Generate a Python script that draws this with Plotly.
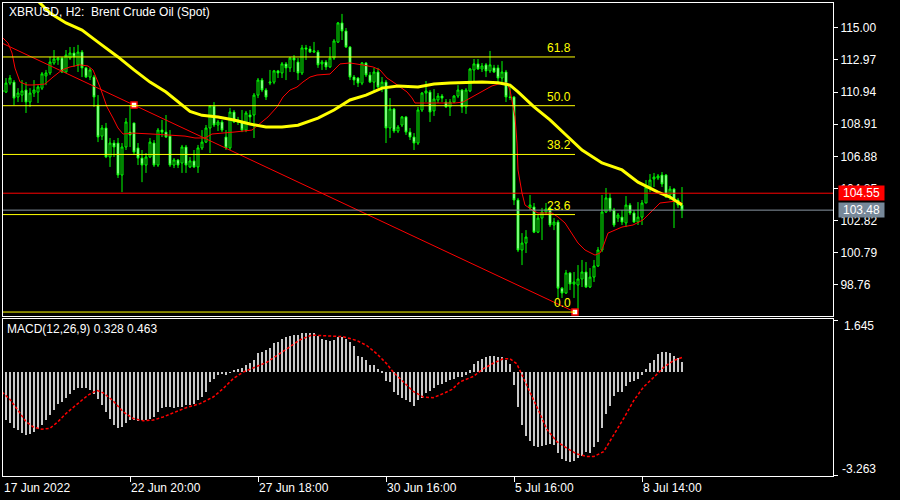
import plotly.graph_objects as go

# ---------------- data ----------------
open_ = [111.07,110.94,111.51,111.57,110.63,110.75,111.07,110.31,110.88,110.94,
         111.19,111.96,112.15,112.78,112.97,113.09,112.21,113.09,113.41,112.66,
         113.47,112.47,111.89,111.89,110.12,108.16,108.67,106.84,107.72,107.72,
         105.70,107.47,108.41,108.99,107.41,106.77,106.33,106.84,107.72,106.33,
         108.54,108.41,108.16,106.33,106.65,106.46,107.47,106.21,106.59,106.21,
         107.41,107.78,108.67,110.06,108.86,109.05,108.10,107.41,109.68,109.05,
         109.05,108.54,109.49,109.49,110.75,111.70,111.07,111.51,111.57,112.28,
         112.15,112.72,112.47,113.09,112.84,112.15,113.73,113.66,113.47,113.47,
         112.72,112.84,112.53,113.09,114.10,115.31,114.80,113.79,111.89,111.83,
         111.51,112.78,112.02,111.57,112.21,111.26,111.57,108.67,109.87,108.48,
         108.86,109.37,108.41,108.10,107.72,109.81,110.88,110.94,109.75,110.44,
         110.69,110.31,110.00,110.31,110.69,111.07,110.00,111.01,112.34,112.72,
         112.40,112.66,112.28,112.47,112.47,111.83,112.21,110.63,110.63,104.12,
         100.96,101.40,103.62,103.68,102.09,102.98,103.36,103.62,102.54,102.73,
         98.55,98.24,99.51,98.81,98.75,99.13,99.57,98.62,99.25,99.95,
         100.96,103.36,104.25,103.49,102.98,103.04,102.67,103.80,103.30,102.73,
         103.04,103.93,104.94,105.45,105.51,105.70,105.70,104.44,104.81,104.12,
         103.80]
high_ = [111.33,111.83,112.02,111.70,111.19,111.70,111.57,111.19,111.70,111.38,
         112.21,112.34,113.16,113.60,113.16,113.16,113.60,113.79,113.79,113.92,
         113.60,112.53,112.47,112.02,110.75,108.86,108.99,108.04,107.91,108.04,
         107.72,109.30,110.12,108.99,107.72,107.28,107.09,108.04,107.91,108.67,
         109.18,109.49,108.54,106.77,106.71,107.60,107.60,106.84,107.28,107.60,
         108.54,108.86,110.12,110.31,109.18,109.18,108.54,109.94,109.81,109.37,
         109.81,109.75,109.81,110.88,111.83,111.83,111.19,112.34,112.34,112.34,
         112.84,112.84,113.16,113.28,113.09,113.92,113.92,113.85,114.11,113.60,
         112.97,112.97,113.79,114.29,115.37,115.88,114.99,113.85,112.02,111.89,
         112.84,112.84,112.21,112.47,112.47,111.89,111.70,110.56,109.94,108.86,
         109.43,109.43,108.67,108.35,110.00,110.94,111.64,111.07,111.13,110.88,
         110.82,110.50,110.50,110.75,111.38,111.13,111.19,112.47,113.03,113.03,
         112.78,112.78,113.54,112.66,112.66,112.90,112.34,111.32,110.69,104.25,
         102.03,102.22,104.44,103.93,103.17,103.62,103.93,103.68,102.98,102.86,
         98.62,99.70,99.57,99.57,100.01,100.33,100.20,99.82,100.33,101.15,
         104.44,104.88,104.56,103.62,103.30,103.49,104.37,103.93,103.49,103.99,
         104.12,105.38,105.76,105.83,105.76,105.89,105.76,105.00,104.88,104.25,
         104.94]
low_ = [110.75,110.88,111.38,110.12,110.31,110.31,109.62,110.00,110.63,110.25,
        111.07,111.38,112.02,112.66,112.66,112.15,112.15,112.97,112.53,112.21,
        111.89,111.83,111.70,110.00,107.78,107.91,106.77,106.21,106.84,105.51,
        104.62,107.28,107.47,106.96,106.33,105.25,105.83,106.77,106.21,106.21,
        108.10,108.04,106.21,106.14,106.14,105.83,105.83,106.14,106.14,105.83,
        107.28,107.72,107.09,108.73,108.48,108.41,107.28,107.28,108.99,108.86,
        108.41,108.41,108.86,108.04,110.56,110.94,110.44,111.38,111.44,111.83,
        111.83,111.70,112.21,112.21,111.70,112.02,112.97,113.41,113.41,112.47,
        112.34,112.34,112.47,112.97,114.04,114.23,113.73,111.70,111.38,111.26,
        111.38,111.89,111.51,110.94,111.19,110.94,107.72,108.04,108.35,108.35,
        108.73,108.23,107.91,107.28,107.60,109.68,110.31,109.05,109.43,110.25,
        110.31,109.94,109.43,110.25,110.56,109.62,109.56,110.94,111.64,112.34,
        112.21,111.89,112.15,112.15,111.57,111.57,110.31,110.44,103.80,100.83,
        100.01,100.77,103.49,102.03,102.03,101.59,103.17,102.41,102.22,97.93,
        97.93,98.18,98.43,97.93,97.10,98.62,98.56,98.56,98.94,99.89,
        100.83,103.30,103.36,102.41,102.73,102.54,102.41,103.17,102.67,102.54,
        102.54,103.93,104.62,104.94,105.38,104.94,104.25,104.12,102.35,103.62,
        102.98]
close_ = [110.94,111.51,111.83,110.56,110.88,111.01,110.31,110.88,111.07,111.26,
          112.09,112.15,112.84,113.03,113.09,112.21,113.28,113.41,113.16,113.47,
          112.47,111.89,112.34,110.63,108.10,108.67,106.84,107.72,107.47,105.70,
          107.47,109.05,108.23,107.15,106.77,106.33,106.84,107.78,106.33,108.54,
          108.41,108.10,106.33,106.65,106.33,107.47,106.33,106.59,106.21,107.41,
          107.78,108.67,110.06,108.86,109.05,108.54,107.41,109.68,109.05,109.18,
          108.54,109.62,109.37,110.75,111.70,111.07,110.63,111.57,112.28,112.15,
          112.72,112.47,113.09,112.97,112.15,113.73,113.66,113.47,113.54,112.66,
          112.84,112.53,113.09,114.17,115.31,114.80,113.79,111.89,111.70,111.51,
          112.78,112.02,111.57,112.21,111.26,111.57,108.67,109.87,108.48,108.73,
          109.37,108.41,108.10,107.72,109.81,110.88,111.01,109.68,110.50,110.69,
          110.56,110.00,110.31,110.69,111.07,110.00,111.07,112.40,112.72,112.40,
          112.59,112.28,112.66,112.21,111.83,112.21,110.63,110.60,104.12,100.96,
          101.40,101.78,103.80,102.09,102.98,103.36,103.55,102.54,102.73,98.55,
          98.24,99.51,98.81,98.94,99.13,99.57,98.62,99.25,99.95,100.96,
          103.36,104.25,103.49,102.54,103.17,102.73,103.80,103.30,102.73,103.04,
          103.93,104.94,105.38,105.57,105.64,105.13,104.31,104.81,104.12,103.80,
          103.48]
bars = list(range(len(close_)))

# slow moving average (thick yellow), sampled along its path
ma_slow_x = [7, 12, 16, 20, 24, 29, 33, 37, 41, 45, 47, 50, 54, 58, 62, 66, 70, 74,
             79, 83, 87, 91, 95, 99, 104, 108, 112, 120, 124, 127, 129, 133, 137,
             141, 145, 150, 155, 159, 164, 167, 170]
ma_slow_y = [117.20, 115.94, 115.31, 114.86, 114.10, 113.16, 112.34, 111.57, 110.94,
             110.12, 109.72, 109.47, 109.37, 109.18, 108.92, 108.73, 108.73, 108.85,
             109.30, 109.81, 110.44, 110.75, 111.19, 111.32, 111.26, 111.45, 111.51,
             111.57, 111.53, 111.38, 110.95, 110.00, 109.18, 108.23, 107.28, 106.46,
             106.02, 105.25, 104.62, 104.31, 103.80]

# fast moving average (thin red)
ma_fast_x = [0, 1.5, 2.5, 3.25, 4.5, 6.25, 7.75, 10.75, 12.75, 15, 17, 19.5, 21.5,
             22.75, 24.5, 26.25, 27.75, 29, 30.25, 32.75, 37.5, 41.5, 45.75, 48.25,
             50.75, 52.5, 55.75, 58.25, 62.5, 64, 66.5, 68.75, 70.25, 72, 73.75,
             75.25, 77, 78.75, 82, 84.5, 87, 90.25, 92.75, 94.5, 96.25, 97.75, 99.5,
             101.25, 102.5, 103.25, 105.75, 109, 113.25, 115.25, 117.5, 120, 122.5,
             125, 126.25, 127, 127.5, 128.25, 128.75, 129, 130, 130.75, 132.5, 134,
             137.5, 139, 140.75, 142.5, 144, 145.75, 148.25, 149.5, 150.25, 151.5,
             153.25, 155, 157.75, 160.25, 162.75, 164.5, 168.75, 170]
ma_fast_y = [114.42, 114.04, 113.41, 112.46, 111.58, 111.39, 111.39, 111.45, 111.89,
             112.34, 112.53, 112.66, 112.59, 112.34, 111.26, 110.00, 109.30, 108.67,
             108.29, 108.35, 108.29, 108.23, 108.16, 108.04, 108.04, 108.29, 108.35,
             108.42, 108.54, 108.86, 109.37, 110.00, 110.63, 111.07, 111.26, 111.58,
             111.89, 112.02, 112.08, 112.72, 112.78, 112.65, 112.53, 112.34, 111.83,
             111.58, 111.26, 110.95, 110.57, 110.25, 110.25, 110.25, 110.25, 110.31,
             110.63, 110.95, 111.33, 111.51, 111.51, 111.07, 110.44, 109.37, 107.72,
             106.02, 104.56, 103.80, 103.49, 103.30, 103.30, 103.05, 102.67, 102.03,
             101.40, 100.96, 100.64, 100.77, 101.15, 102.03, 102.22, 102.41, 102.54,
             102.86, 103.49, 103.93, 104.06, 103.93]

# MACD(12,26,9) histogram, one value per bar
macd_hist = [-1.45, -1.52, -1.62, -1.78, -1.83, -1.94, -1.99, -1.96, -1.89, -1.81,
             -1.68, -1.52, -1.36, -1.21, -1.02, -0.94, -0.81, -0.68, -0.58, -0.49,
             -0.49, -0.49, -0.58, -0.68, -0.84, -1.05, -1.26, -1.50, -1.68, -1.76,
             -1.73, -1.60, -1.52, -1.52, -1.55, -1.52, -1.52, -1.47, -1.42, -1.26,
             -1.15, -1.10, -1.10, -1.15, -1.10, -1.10, -1.05, -1.05, -1.00, -0.89,
             -0.79, -0.63, -0.31, -0.21, -0.10, -0.05, -0.10, -0.02, 0.08, 0.10,
             0.14, 0.21, 0.28, 0.39, 0.60, 0.63, 0.70, 0.77, 0.91, 0.96,
             1.05, 1.10, 1.15, 1.18, 1.18, 1.23, 1.24, 1.24, 1.23, 1.15,
             1.05, 1.00, 0.97, 1.00, 1.12, 1.12, 1.05, 0.94, 0.81, 0.52,
             0.47, 0.37, 0.23, 0.23, 0.10, 0.02, -0.28, -0.31, -0.63, -0.73,
             -0.81, -0.89, -0.94, -1.08, -0.89, -0.81, -0.66, -0.60, -0.49, -0.42,
             -0.37, -0.31, -0.26, -0.21, -0.16, -0.16, -0.08, 0.05, 0.26, 0.34,
             0.42, 0.47, 0.52, 0.52, 0.49, 0.49, 0.37, 0.26, -0.42, -1.12,
             -1.68, -2.02, -2.18, -2.34, -2.36, -2.34, -2.31, -2.27, -2.31, -2.55,
             -2.76, -2.83, -2.86, -2.83, -2.73, -2.67, -2.52, -2.57, -2.38, -2.20,
             -1.78, -1.33, -1.08, -0.77, -0.63, -0.63, -0.45, -0.31, -0.28, -0.21,
             -0.10, 0.10, 0.28, 0.39, 0.56, 0.63, 0.63, 0.61, 0.52, 0.45,
             0.328]

# MACD signal line, sampled along its path
signal_x = [0, 2, 4, 6, 8, 10, 12, 14, 16, 19, 21.5, 23.7, 25.3, 27.8, 30.3, 32.8,
            35.3, 37.8, 40.3, 42.8, 46.2, 49.5, 52.8, 55.3, 57.8, 60.3, 62.8, 66.2,
            68.7, 72, 74.5, 77.4, 81.2, 85.3, 88.7, 91.2, 93.7, 96.2, 97.8, 100.3,
            102.8, 105.3, 107.8, 110.3, 112.5, 114.5, 117.8, 120.3, 122.8, 125.3,
            127, 128.7, 130.3, 132, 134, 136.2, 138.7, 141.2, 143.7, 146.2, 148,
            150.4, 153, 155.4, 158, 160.4, 163, 165.5, 168, 170]
signal_y = [-0.63, -0.87, -1.21, -1.57, -1.75, -1.81, -1.78, -1.57, -1.31, -1.00,
            -0.73, -0.58, -0.66, -0.91, -1.26, -1.47, -1.54, -1.52, -1.42, -1.29,
            -1.12, -1.00, -0.79, -0.52, -0.21, 0.00, 0.14, 0.31, 0.52, 0.79,
            1.02, 1.17, 1.15, 1.12, 1.00, 0.84, 0.58, 0.26, 0.00, -0.31,
            -0.61, -0.79, -0.81, -0.68, -0.55, -0.31, -0.14, 0.10, 0.28, 0.42,
            0.42, 0.26, -0.16, -0.63, -1.18, -1.81, -2.20, -2.41, -2.59, -2.67,
            -2.67, -2.52, -1.99, -1.47, -0.89, -0.47, -0.16, 0.16, 0.37, 0.463]

price_ticks = [115.00, 112.97, 110.94, 108.91, 106.88, 104.85, 102.82, 100.79, 98.76]
time_tick_pos = [0.25, 32, 64, 96, 128, 160]
time_tick_text = ["17 Jun 2022", "22 Jun 20:00", "27 Jun 18:00", "30 Jun 16:00",
                  "5 Jul 16:00", "8 Jul 14:00"]

fib_prices = [97.04, 103.20, 107.00, 110.08, 113.16]
fib_labels = ["0.0", "23.6", "38.2", "50.0", "61.8"]
fib_end = 143.25

trend_x = [33, 143.25]
trend_y = [110.12, 97.04]

red_line_price = 104.55
bid_price = 103.48
macd_scale = [1.645, -3.263]
macd_last = [0.328, 0.463]

title_text = "XBRUSD,\u00a0H2:\u00a0\u00a0Brent Crude Oil (Spot)"

# ---------------- figure ----------------
FONT = "Liberation Sans, Arial, sans-serif"
W, H = 900, 500
X_RANGE = [0.25, 207.75]
left_px, right_px = 3, 833

fig = go.Figure()

fig.add_trace(go.Candlestick(
    x=bars, open=open_, high=high_, low=low_, close=close_,
    increasing=dict(line=dict(color="#00ff00", width=1), fillcolor="#000000"),
    decreasing=dict(line=dict(color="#00ff00", width=1), fillcolor="#ffffff"),
    whiskerwidth=0, hoverinfo="skip", xaxis="x", yaxis="y", showlegend=False))

# trendline extended to the left edge
slope = (trend_y[1] - trend_y[0]) / (trend_x[1] - trend_x[0])
x_left = X_RANGE[0]
y_left = trend_y[0] + slope * (x_left - trend_x[0])
fig.add_trace(go.Scatter(x=[x_left, trend_x[1]], y=[y_left, trend_y[1]], mode="lines",
                         line=dict(color="#ff0000", width=1), hoverinfo="skip",
                         xaxis="x", yaxis="y", showlegend=False))

fig.add_trace(go.Scatter(x=ma_fast_x, y=ma_fast_y, mode="lines",
                         line=dict(color="#ff0000", width=1), hoverinfo="skip",
                         xaxis="x", yaxis="y", showlegend=False))
fig.add_trace(go.Scatter(x=ma_slow_x, y=ma_slow_y, mode="lines",
                         line=dict(color="#ffff00", width=3), hoverinfo="skip",
                         xaxis="x", yaxis="y", showlegend=False))

# trendline anchor squares
fig.add_trace(go.Scatter(x=trend_x, y=trend_y, mode="markers",
                         marker=dict(symbol="square", size=6, color="#ffffff",
                                     line=dict(color="#ff0000", width=1.5)),
                         hoverinfo="skip", xaxis="x", yaxis="y", showlegend=False,
                         cliponaxis=False))

# MACD pane
fig.add_trace(go.Bar(x=bars, y=macd_hist, width=0.4, marker=dict(color="#c8c8c8", line=dict(width=0)),
                     hoverinfo="skip", xaxis="x2", yaxis="y2", showlegend=False))
fig.add_trace(go.Scatter(x=signal_x, y=signal_y, mode="lines",
                         line=dict(color="#ff0000", width=1.5, dash="3px,2px"),
                         hoverinfo="skip", xaxis="x2", yaxis="y2", showlegend=False))

shapes = []
for p in fib_prices:
    shapes.append(dict(type="line", xref="x", yref="y", x0=X_RANGE[0], x1=fib_end,
                       y0=p, y1=p, line=dict(color="#ffff00", width=1), layer="above"))
shapes.append(dict(type="line", xref="paper", yref="y", x0=left_px / W, x1=right_px / W,
                   y0=red_line_price, y1=red_line_price, line=dict(color="#ff0000", width=1)))
shapes.append(dict(type="line", xref="paper", yref="y", x0=left_px / W, x1=right_px / W,
                   y0=bid_price, y1=bid_price, line=dict(color="#8a96a3", width=1)))

ann = []
ann.append(dict(text=title_text, xref="paper", yref="paper", x=7 / W, y=1 - 12 / H,
                xanchor="left", yanchor="middle", showarrow=False,
                font=dict(color="#ffffff", size=12, family=FONT)))
ann.append(dict(text="MACD(12,26,9) %.3f %.3f" % (macd_last[0], macd_last[1]),
                xref="paper", yref="paper", x=5 / W, y=1 - 329 / H,
                xanchor="left", yanchor="middle", showarrow=False,
                font=dict(color="#ffffff", size=12, family=FONT)))
for pos, txt in zip(time_tick_pos, time_tick_text):
    ann.append(dict(text=txt, xref="x2", yref="paper", x=pos, y=1 - 488 / H,
                    xanchor="left", yanchor="middle", showarrow=False, xshift=-1,
                    font=dict(color="#ffffff", size=12, family=FONT)))
for p, lab in zip(fib_prices, fib_labels):
    ann.append(dict(text=lab, xref="x", yref="y", x=fib_end, y=p, xanchor="right",
                    yanchor="bottom", showarrow=False, xshift=-2, yshift=0,
                    font=dict(color="#ffff00", size=12, family=FONT)))
ann.append(dict(text="%.3f" % macd_scale[0], xref="paper", yref="paper", x=842 / W,
                y=1 - 326 / H, xanchor="left", yanchor="middle", showarrow=False,
                font=dict(color="#ffffff", size=12, family=FONT)))
ann.append(dict(text="%.3f" % macd_scale[1], xref="paper", yref="paper", x=840 / W,
                y=1 - 469 / H, xanchor="left", yanchor="middle", showarrow=False,
                font=dict(color="#ffffff", size=12, family=FONT)))
ann.append(dict(text="%.2f" % red_line_price, xref="paper", yref="y", x=838 / W,
                y=red_line_price, xanchor="left", yanchor="middle", showarrow=False,
                bgcolor="#ff0000", width=45, height=14, borderpad=0,
                font=dict(color="#ffffff", size=12, family=FONT)))
ann.append(dict(text="%.2f" % bid_price, xref="paper", yref="y", x=838 / W,
                y=bid_price, xanchor="left", yanchor="middle", showarrow=False,
                bgcolor="#778899", width=45, height=14, borderpad=0,
                font=dict(color="#ffffff", size=12, family=FONT)))

x_dom = [left_px / W, right_px / W]
axis_common = dict(showgrid=False, zeroline=False, showline=True, mirror=True,
                   linecolor="#ffffff", linewidth=1, automargin=False)

fig.update_layout(
    width=W, height=H, autosize=False,
    margin=dict(l=0, r=0, t=0, b=0),
    paper_bgcolor="#000000", plot_bgcolor="#000000",
    showlegend=False, bargap=0,
    shapes=shapes, annotations=ann,
    xaxis=dict(domain=x_dom, range=X_RANGE, anchor="y", showticklabels=False,
               ticks="", rangeslider=dict(visible=False), **axis_common),
    yaxis=dict(domain=[1 - 316 / H, 1 - 3 / H], range=[96.79, 116.57], anchor="x",
               side="right", tickvals=price_ticks,
               ticktext=["%.2f" % v for v in price_ticks],
               ticks="outside", ticklen=4, tickcolor="#ffffff",
               tickfont=dict(color="#ffffff", size=12, family=FONT), **axis_common),
    xaxis2=dict(domain=x_dom, range=X_RANGE, anchor="y2", matches="x",
                tickvals=time_tick_pos[1:], ticks="outside", ticklen=5,
                tickcolor="#ffffff", showticklabels=False, **axis_common),
    yaxis2=dict(domain=[1 - 476 / H, 1 - 319 / H], range=[-3.29, 1.68], anchor="x2",
                side="right", tickvals=macd_scale, ticks="outside", ticklen=4,
                tickcolor="#ffffff", showticklabels=False, **axis_common),
)

fig.write_html("out.html",
               config={"displayModeBar": False},
               post_script="document.body.style.margin='0';document.body.style.padding='0';"
                           "document.body.style.background='#000';")
